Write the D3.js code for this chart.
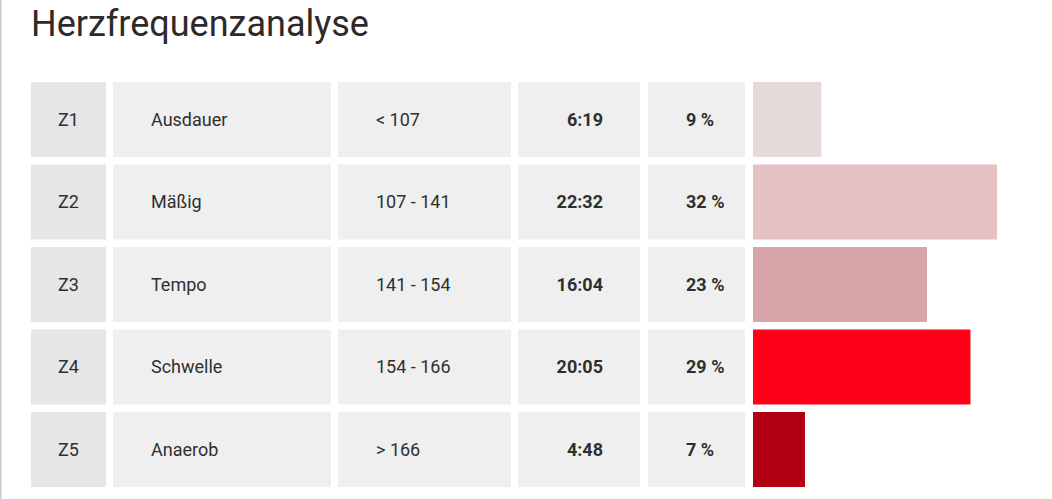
<!DOCTYPE html>
<html>
<head>
<meta charset="utf-8">
<script src="https://cdn.jsdelivr.net/npm/d3@7"></script>
<style>
  html, body { margin: 0; padding: 0; background: #ffffff; }
  svg { display: block; }
</style>
</head>
<body>
<svg id="chart" width="1052" height="499"></svg>
<script>
const title = "Herzfrequenzanalyse";
const zones = ["Z1", "Z2", "Z3", "Z4", "Z5"];
const names = ["Ausdauer", "Mäßig", "Tempo", "Schwelle", "Anaerob"];
const ranges = ["< 107", "107 - 141", "141 - 154", "154 - 166", "> 166"];
const times = ["6:19", "22:32", "16:04", "20:05", "4:48"];
const percents = [9, 32, 23, 29, 7];
const barColors = ["#e6d9da", "#e4c1c2", "#d8a6a8", "#ff0019", "#b20012"];

const toSec = t => { const [m, s] = t.split(":").map(Number); return m * 60 + s; };
const seconds = times.map(toSec);

const svg = d3.select("#chart");
const W = 1052, H = 499;

svg.append("rect").attr("x", 0).attr("y", 0).attr("width", W).attr("height", H).attr("fill", "#ffffff");
svg.append("rect").attr("x", 0).attr("y", 0).attr("width", 1.5).attr("height", H).attr("fill", "#c9c9cd");

svg.append("text")
  .attr("x", 31).attr("y", 36)
  .attr("font-family", "Roboto, sans-serif")
  .attr("font-size", 36)
  .attr("fill", "#2f2a2a")
  .text(title);

const y = d3.scaleBand().domain(zones).range([82, 487]).paddingInner(0.0909).paddingOuter(0);

const cols = [
  {x0: 31, x1: 106, fill: "#e6e6e6"},
  {x0: 113, x1: 331, fill: "#efefef"},
  {x0: 338, x1: 511, fill: "#efefef"},
  {x0: 518, x1: 640, fill: "#efefef"},
  {x0: 648, x1: 745, fill: "#efefef"}
];

const barX0 = 753;
const x = d3.scaleLinear().domain([0, d3.max(seconds)]).range([0, 244]);

const rows = zones.map((z, i) => ({z, name: names[i], range: ranges[i], time: times[i], pct: percents[i], sec: seconds[i], color: barColors[i]}));

const g = svg.selectAll("g.row").data(rows).join("g").attr("class", "row")
  .attr("transform", d => `translate(0,${y(d.z)})`);

const bh = y.bandwidth();

cols.forEach(c => {
  g.append("rect").attr("x", c.x0).attr("y", 0).attr("width", c.x1 - c.x0).attr("height", bh).attr("fill", c.fill);
});

const txt = (sel) => sel.attr("y", bh / 2).attr("dy", "0.36em")
  .attr("font-family", "Roboto, sans-serif").attr("font-size", 18).attr("fill", "#2f2f2f");

g.append("text").call(txt).attr("x", (cols[0].x0 + cols[0].x1) / 2).attr("text-anchor", "middle").text(d => d.z);
g.append("text").call(txt).attr("x", 151).text(d => d.name);
g.append("text").call(txt).attr("x", 376).text(d => d.range);
g.append("text").call(txt).attr("x", 603).attr("text-anchor", "end").attr("font-weight", "bold").text(d => d.time);
g.append("text").call(txt).attr("x", 686).attr("font-weight", "bold").text(d => d.pct + " %");

g.append("rect").attr("x", barX0).attr("y", 0).attr("height", bh)
  .attr("width", d => x(d.sec)).attr("fill", d => d.color);
</script>
</body>
</html>
